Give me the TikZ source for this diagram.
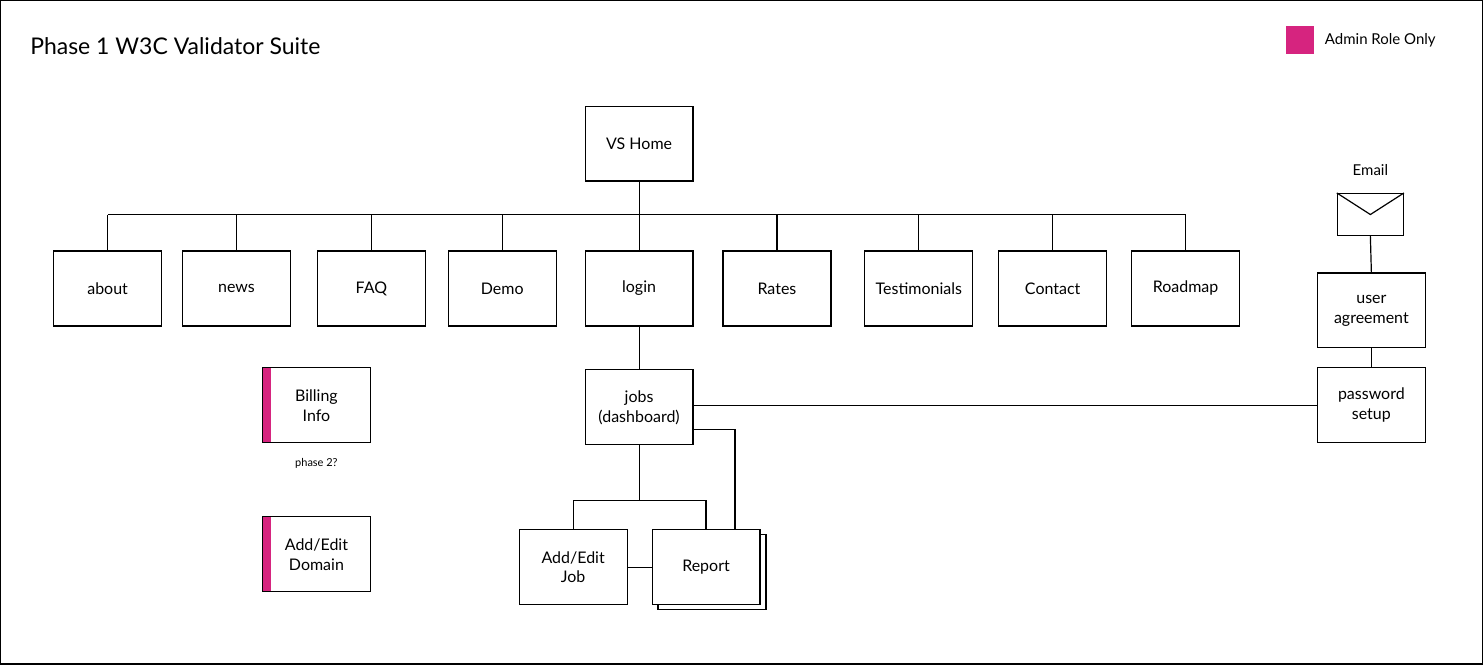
\documentclass[tikz,border=0pt]{standalone}
\usepackage{fontspec}
\setmainfont{Lato}
\usetikzlibrary{positioning, shapes.geometric}
\definecolor{adminpink}{HTML}{D6247F}
\tikzset{page/.style={draw, line width=1.2pt, minimum width=108pt, minimum height=75pt,
    align=center, font=\fontsize{16}{20}\selectfont, fill=white},
  adminpage/.style={page, path picture={\fill[adminpink] (path picture bounding box.north west) rectangle ([xshift=9pt]path picture bounding box.south west);}},
  link/.style={line width=1.2pt}}
\begin{document}
\begin{tikzpicture}[x=1pt,y=-1pt]
\draw[line width=1.5pt] (0,0) rectangle (1483,664);
\node[anchor=west, font=\fontsize{23}{27}\selectfont] (title) at (26,45) {Phase 1 W3C Validator Suite};
\fill[adminpink] (1287,25) rectangle (1315,53);
\node[anchor=west, font=\fontsize{15}{18}\selectfont] (legend) at (1322,40) {Admin Role Only};

\node[page] (home) at (639,143) {VS Home};
% top level pages
\foreach \name/\cx/\txt in {about/107/about, news/236/news, faq/371/FAQ, demo/502/Demo,
    login/639/login, rates/777/Rates, testi/919/Testimonials, contact/1053/Contact, roadmap/1186/Roadmap}
  \node[page] (\name) at (\cx,288) {\txt};
\coordinate (busL) at (107,214);
\coordinate (busR) at (1186,214);
\draw[link] (busL) -- (busR);
\draw[link] (home.south) -- (home.south |- busL);
\foreach \name in {about,news,faq,demo,login,rates,testi,contact,roadmap}
  \draw[link] (\name.north) -- (\name.north |- busL);

% email signup
\node[font=\fontsize{15}{18}\selectfont] (emaillbl) at (1371,169) {Email};
\node[draw, line width=1.2pt, minimum width=66pt, minimum height=42pt] (email) at (1371,214) {};
\draw[link] (email.north west) -- (email.center) -- (email.north east);
\node[page] (agree) at (1372,310) {user\\agreement};
\node[page] (pwd) at (1372,405) {password\\setup};
\draw[link] (email.south) -- (agree.north);
\draw[link] (agree.south) -- (pwd.north);

% jobs
\node[page] (jobs) at (639,407) {jobs\\(dashboard)};
\draw[link] (login.south) -- (jobs.north);
\draw[link] (jobs.east |- pwd.west) -- (pwd.west);
\node[page] (report2) at (712,572) {};
\node[page] (report) at (706,567) {Report};
\node[page] (addjob) at (573,567) {Add/Edit\\Job};
\coordinate (split) at (639,500);
\coordinate (side) at (735,429);
\draw[link] (jobs.east |- side) -- (side) -- (side |- report.north);
\draw[link] (jobs.south) -- (split);
\draw[link] (addjob.north) -- (addjob.north |- split) -- (report.north |- split) -- (report.north);
\draw[link] (addjob.east) -- (report.west);

% admin pages
\node[adminpage] (billing) at (316,405) {Billing\\Info};
\node[font=\fontsize{11}{13}\selectfont] (phase) at (316,463) {phase 2?};
\node[adminpage] (domain) at (316,554) {Add/Edit\\Domain};
\end{tikzpicture}
\end{document}
